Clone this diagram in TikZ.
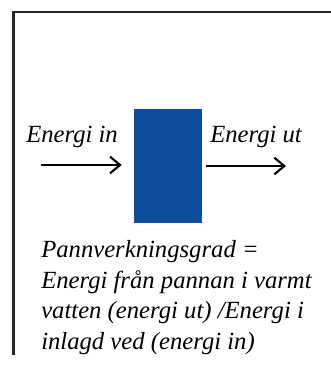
\documentclass[tikz,border=0pt]{standalone}
\usepackage{fontspec}
\setmainfont{Liberation Serif}
\usetikzlibrary{arrows.meta}
\definecolor{pannblue}{HTML}{0D4C9E}
\tikzset{
	energyarrow/.style={line width=1.6pt, -{Straight Barb[length=7.5pt,width=12.5pt,line width=1.6pt]}},
	energylabel/.style={font=\fontsize{18.5}{23}\selectfont\itshape, inner sep=0pt},
	boilerbox/.style={fill=pannblue, draw=none, minimum width=51pt, minimum height=85pt, inner sep=0pt},
}

\begin{document}
\begin{tikzpicture}[x=0.75pt,y=-0.75pt]
			%%%%% START %%%%%
			\useasboundingbox (0,0) rectangle (331,365);
			
			\draw[line width=1.8pt, color=black!85] (331,12) -- (13.5,12) -- (13.5,355);
			
			\node[boilerbox] (panna) at (168,166) {};
			
			\coordinate (inStart) at (41,165);
			\coordinate (utEnd) at (286,166);
			\draw[energyarrow, shorten >=9pt] (inStart) -- (inStart -| panna.west);
			\draw[energyarrow, shorten <=2.5pt] (panna.east |- utEnd) -- (utEnd);
			
			\node[energylabel, anchor=base west] (inText) at (26,142) {Energi in};
			\node[energylabel, anchor=base west] (utText) at (210,142) {Energi ut};
			
			\node[energylabel, anchor=north west, align=left] (formula) at (41,240)
				{Pannverkningsgrad =\\Energi från pannan i varmt\\vatten (energi ut) /Energi i\\inlagd ved (energi in)};
			
			%%%%% END %%%%%
\end{tikzpicture}
\end{document}
